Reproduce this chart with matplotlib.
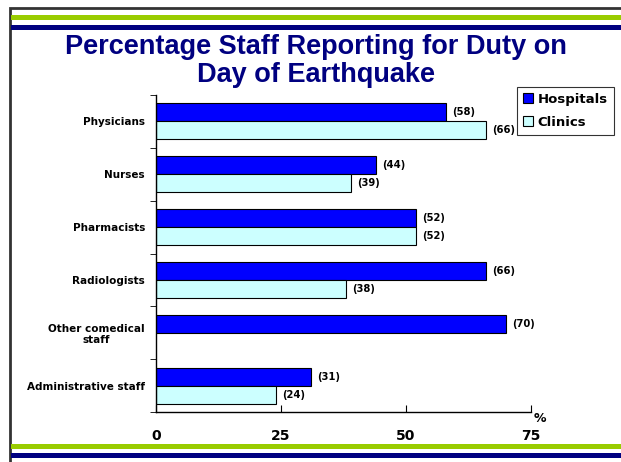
import matplotlib.pyplot as plt
from matplotlib.patches import Rectangle
import numpy as np

categories = ["Physicians", "Nurses", "Pharmacists", "Radiologists",
              "Other comedical\nstaff", "Administrative staff"]
hospitals = [58, 44, 52, 66, 70, 31]
clinics = [66, 39, 52, 38, None, 24]
xticks = [0, 25, 50, 75]

W, H = 621, 462
fig = plt.figure(figsize=(W / 100, H / 100), dpi=100)
fig.patch.set_facecolor("white")

def px(x, y):
    return x / W, 1 - y / H

# slide frame and stripes
fig.add_artist(Rectangle(px(10, 470), 640 / W, 462 / H, transform=fig.transFigure,
                         fill=False, edgecolor="#333333", linewidth=2))
for y0, y1, c in [(15, 20, "#99cc00"), (25, 30, "#000080"),
                  (444, 449, "#99cc00"), (453, 458, "#000080")]:
    fig.add_artist(Rectangle(px(11, y1), (W - 11) / W, (y1 - y0) / H,
                             transform=fig.transFigure, color=c, linewidth=0))

fig.text(316 / W, 1 - 61 / H, "Percentage Staff Reporting for Duty on\nDay of Earthquake",
         ha="center", va="center", fontsize=19.5, fontweight="bold", color="#000080",
         family="Liberation Sans", linespacing=1.15)

l, b = px(156, 412)
r, t = px(531, 95)
ax = fig.add_axes([l, b, r - l, t - b])

n = len(categories)
pos = np.arange(n)
h = 0.34
hb = ax.barh(pos - h / 2, hospitals, height=h, color="#0000ff", edgecolor="black",
             linewidth=0.8, label="Hospitals")
cv = [c if c is not None else 0 for c in clinics]
cb = ax.barh(pos + h / 2, cv, height=h, color="#ccffff", edgecolor="black",
             linewidth=0.8, label="Clinics")
for i, c in enumerate(clinics):
    if c is None:
        cb[i].set_visible(False)

lab = dict(fontsize=7.2, fontweight="bold", va="center", family="DejaVu Sans")
for i, v in enumerate(hospitals):
    ax.text(v + 1.3, pos[i] - h / 2, f"({v})", **lab)
for i, v in enumerate(clinics):
    if v is not None:
        ax.text(v + 1.3, pos[i] + h / 2, f"({v})", **lab)

ax.set_ylim(n - 0.5, -0.5)
ax.set_xlim(0, 75)
ax.set_yticks(pos)
ax.set_yticklabels(categories, fontsize=7.5, fontweight="bold", family="DejaVu Sans")
ax.tick_params(axis="y", length=0, pad=8)
ax.set_yticks(np.arange(-0.5, n, 1), minor=True)
ax.tick_params(axis="y", which="minor", length=4, direction="out")
ax.set_xticks(xticks)
ax.set_xticklabels([str(x) for x in xticks], fontsize=10, fontweight="bold",
                   family="DejaVu Sans")
ax.tick_params(axis="x", direction="in", length=5, pad=12)
for s in ["top", "right"]:
    ax.spines[s].set_visible(False)
for s in ["left", "bottom"]:
    ax.spines[s].set_linewidth(1.0)
for lbl in ax.get_yticklabels():
    lbl.set_multialignment("center")

fig.text(*px(540, 418), "%", fontsize=9, fontweight="bold", ha="center", va="center")

leg = fig.legend(handles=[hb, cb], loc="upper left", bbox_to_anchor=px(517, 87),
                 frameon=True, fancybox=False, edgecolor="black",
                 prop={"size": 9.5, "weight": "bold", "family": "DejaVu Sans"},
                 handlelength=0.8, handleheight=0.8, handletextpad=0.3,
                 borderpad=0.45, labelspacing=0.75, borderaxespad=0)
leg.get_frame().set_linewidth(0.8)

fig.savefig("out.png", dpi=100)
